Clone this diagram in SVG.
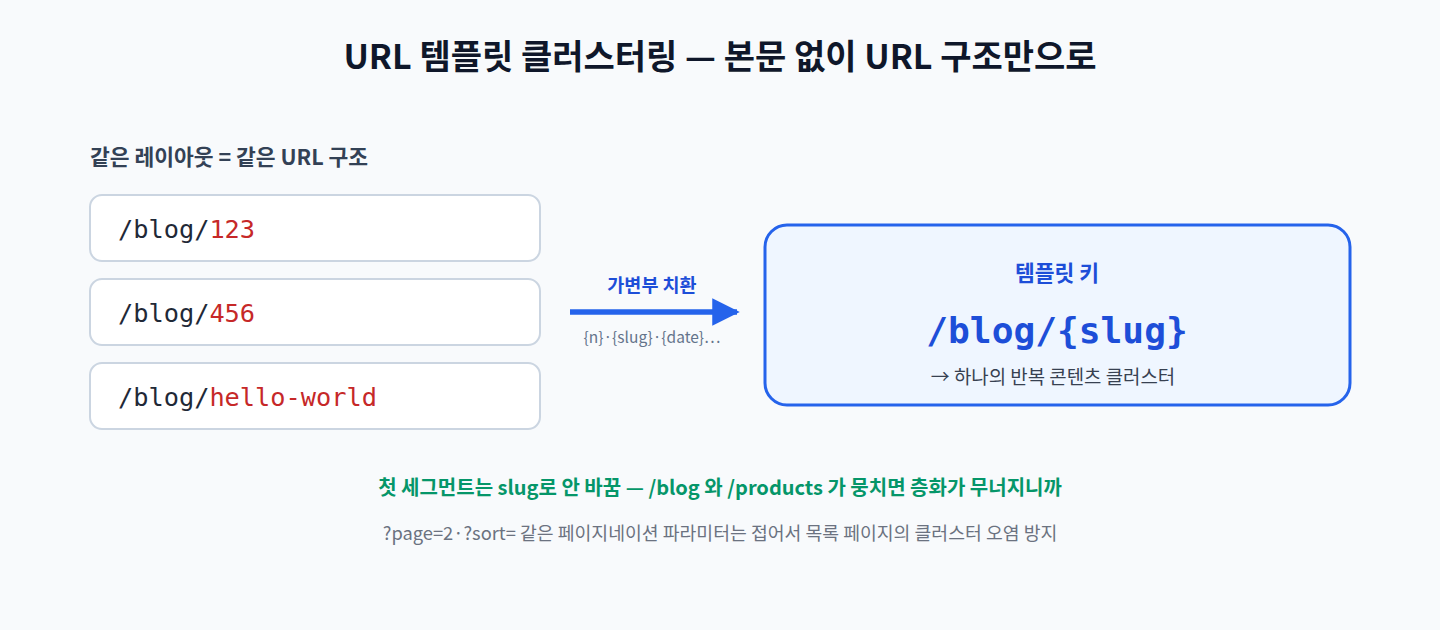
<svg xmlns="http://www.w3.org/2000/svg" width="1440" height="630" viewBox="0 0 1440 630">
<defs>
<style>
.k{font-family:"Noto Sans CJK KR","Noto Sans",sans-serif}
.m{font-family:"DejaVu Sans Mono","Liberation Mono",monospace}
.box{fill:#ffffff;stroke:#cbd5e1;stroke-width:2}
.url{font-size:25.3px;fill:#1f2937}
.var{fill:#c62828}
</style>
<marker id="ah" viewBox="0 0 10 10" refX="9" refY="5" markerWidth="5" markerHeight="5.6" orient="auto" markerUnits="strokeWidth">
<path d="M0,0 L10,5 L0,10 Z" fill="#2563eb"/>
</marker>
</defs>
<rect x="0" y="0" width="1440" height="630" fill="#f8fafc"/>
<text class="k" x="720" y="69" text-anchor="middle" font-size="34" font-weight="700" fill="#0f172a">URL 템플릿 클러스터링 — 본문 없이 URL 구조만으로</text>
<text class="k" x="90" y="165" font-size="21.5" font-weight="700" fill="#334155">같은 레이아웃 = 같은 URL 구조</text>
<g id="url1">
<rect class="box" x="90" y="195" width="450" height="66" rx="12"/>
<text class="m url" x="118" y="238">/blog/<tspan class="var">123</tspan></text>
</g>
<g id="url2">
<rect class="box" x="90" y="279" width="450" height="66" rx="12"/>
<text class="m url" x="118" y="322">/blog/<tspan class="var">456</tspan></text>
</g>
<g id="url3">
<rect class="box" x="90" y="363" width="450" height="66" rx="12"/>
<text class="m url" x="118" y="406">/blog/<tspan class="var">hello-world</tspan></text>
</g>
<g id="connectors">
<line x1="570" y1="312" x2="737" y2="312" stroke="#2563eb" stroke-width="5.5" marker-end="url(#ah)"/>
<text class="k" x="652" y="292" text-anchor="middle" font-size="18.5" font-weight="700" fill="#1d4ed8">가변부 치환</text>
<text class="k" x="652" y="343" text-anchor="middle" font-size="15.5" fill="#64748b">{n}·{slug}·{date}…</text>
</g>
<g id="template">
<rect x="765" y="225" width="585" height="180" rx="22" fill="#eff6ff" stroke="#2563eb" stroke-width="3"/>
<text class="k" x="1057" y="281" text-anchor="middle" font-size="21.5" font-weight="700" fill="#1d4ed8">템플릿 키</text>
<text class="m" x="1057" y="343" text-anchor="middle" font-size="36.2" font-weight="700" fill="#1d4ed8">/blog/{slug}</text>
<text class="k" x="1053" y="384" text-anchor="middle" font-size="18.9" fill="#374151">→ 하나의 반복 콘텐츠 클러스터</text>
</g>
<text class="k" x="720" y="495" text-anchor="middle" font-size="20" font-weight="700" fill="#059669">첫 세그먼트는 slug로 안 바꿈 — /blog 와 /products 가 뭉치면 층화가 무너지니까</text>
<text class="k" x="720" y="540" text-anchor="middle" font-size="18.3" fill="#6b7280">?page=2·?sort= 같은 페이지네이션 파라미터는 접어서 목록 페이지의 클러스터 오염 방지</text>
</svg>
